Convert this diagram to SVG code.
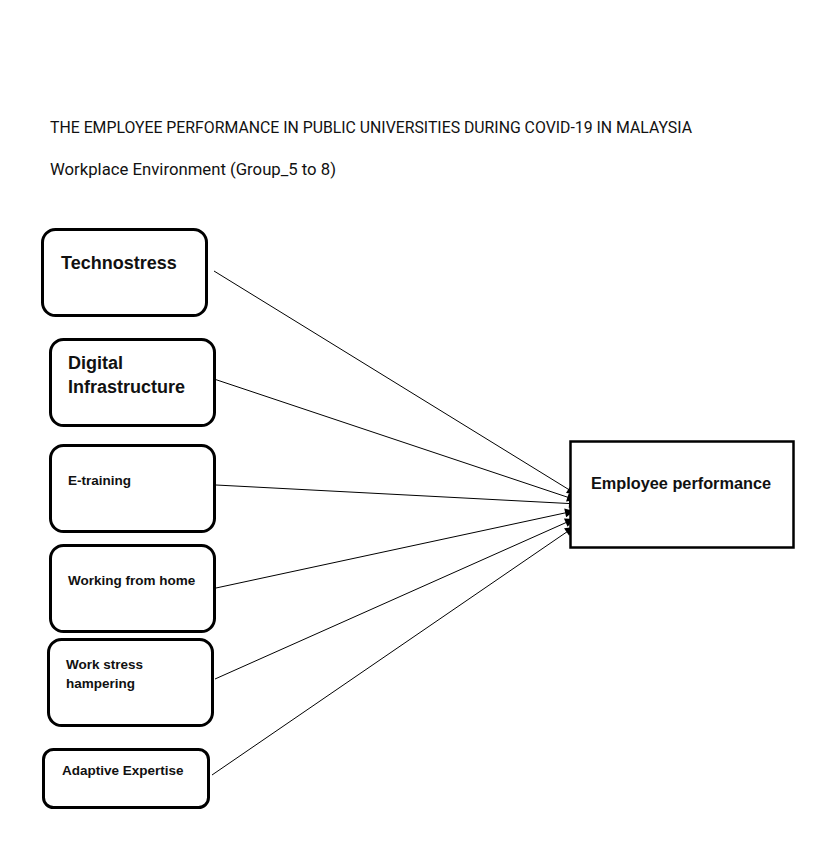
<svg xmlns="http://www.w3.org/2000/svg" width="828" height="847" viewBox="0 0 828 847">
<style>
.box{fill:#fff;stroke:#000;stroke-width:3}
.lbl{font-family:"Liberation Sans",Arial,sans-serif;font-weight:bold;fill:#111}
.hd{font-family:Roboto,"Liberation Sans",sans-serif;fill:#111;font-size:16px}
.cn{stroke:#000;stroke-width:1;fill:none;marker-end:url(#ah)}
</style>
<defs>
<marker id="ah" viewBox="0 0 10 10" refX="10" refY="5" markerWidth="12" markerHeight="9" markerUnits="userSpaceOnUse" orient="auto">
<path d="M0,0 L10,5 L0,10 z" fill="#000"/>
</marker>
</defs>
<rect width="828" height="847" fill="#fff"/>
<g id="title">
<text class="hd" x="50" y="133" textLength="642" lengthAdjust="spacingAndGlyphs">THE EMPLOYEE PERFORMANCE IN PUBLIC UNIVERSITIES DURING COVID-19 IN MALAYSIA</text>
<text class="hd" x="50" y="175" textLength="286" lengthAdjust="spacingAndGlyphs">Workplace Environment (Group_5 to 8)</text>
</g>
<g id="connectors">
<line class="cn" x1="214" y1="271" x2="576" y2="494"/>
<line class="cn" x1="214" y1="379" x2="576" y2="500"/>
<line class="cn" x1="216" y1="485" x2="578" y2="504"/>
<line class="cn" x1="216" y1="588" x2="574" y2="511"/>
<line class="cn" x1="215" y1="679" x2="574" y2="519"/>
<line class="cn" x1="212" y1="775" x2="574" y2="527"/>
</g>
<g id="technostress">
<rect class="box" x="42.5" y="229.5" width="164" height="86" rx="13"/>
<text class="lbl" x="61" y="269" font-size="18">Technostress</text>
</g>
<g id="digital">
<rect class="box" x="50.5" y="339.5" width="164" height="86" rx="13"/>
<text class="lbl" x="68" y="369" font-size="18">Digital</text>
<text class="lbl" x="68" y="393" font-size="18">Infrastructure</text>
</g>
<g id="etraining">
<rect class="box" x="50.5" y="445.5" width="164" height="86" rx="13"/>
<text class="lbl" x="68" y="485" font-size="13.5">E-training</text>
</g>
<g id="wfh">
<rect class="box" x="50.5" y="545.5" width="164" height="86" rx="13"/>
<text class="lbl" x="68" y="585" font-size="13.5">Working from home</text>
</g>
<g id="workstress">
<rect class="box" x="48.5" y="639.5" width="164" height="86" rx="13"/>
<text class="lbl" x="66" y="669" font-size="13.5">Work stress</text>
<text class="lbl" x="66" y="688" font-size="13.5">hampering</text>
</g>
<g id="adaptive">
<rect class="box" x="43.5" y="749.5" width="165" height="58" rx="10"/>
<text class="lbl" x="62" y="775" font-size="13.5">Adaptive Expertise</text>
</g>
<g id="employee">
<rect x="570.5" y="441.5" width="223" height="106" fill="#fff" stroke="#000" stroke-width="2.5"/>
<text class="lbl" x="591" y="489" font-size="16" textLength="180" lengthAdjust="spacingAndGlyphs">Employee performance</text>
</g>
</svg>
